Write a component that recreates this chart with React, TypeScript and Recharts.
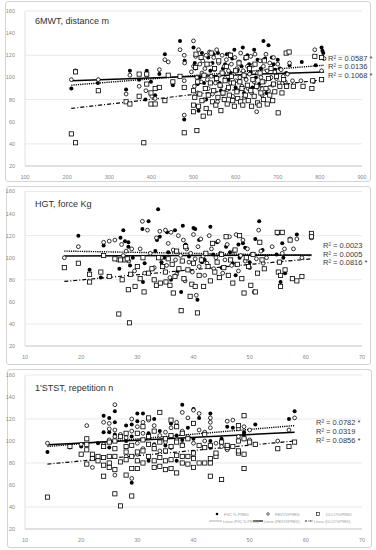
import { ScatterChart, Scatter, XAxis, YAxis, CartesianGrid, ReferenceLine } from "recharts";

type Pt = [number, number];

// 6MWT panel
const fvcWalk: Pt[] = [
  [210, 90], [273, 95], [340, 89], [349, 106], [371, 98], [386, 80], [389, 106], [399, 96], [409, 84], [419, 103],
  [432, 121], [451, 93], [468, 133], [479, 115], [478, 62], [500, 127], [503, 113], [505, 108], [510, 94], [512, 70],
  [515, 100], [520, 122], [525, 95], [530, 80], [535, 118], [540, 106], [545, 113], [548, 121], [552, 100], [558, 122],
  [562, 95], [565, 88], [570, 108], [575, 112], [579, 121], [583, 98], [588, 104], [592, 117], [597, 125], [600, 91],
  [605, 107], [610, 97], [614, 110], [617, 127], [620, 86], [624, 99], [628, 120], [632, 112], [636, 105], [640, 91],
  [644, 125], [648, 100], [652, 116], [656, 94], [660, 108], [666, 133], [670, 117], [673, 86], [678, 129], [682, 99],
  [686, 118], [690, 112], [694, 107], [700, 116], [705, 108], [720, 104], [728, 111], [757, 114], [785, 96], [790, 111],
  [804, 127], [806, 124], [808, 122],
];
const fev1Walk: Pt[] = [
  [210, 98], [220, 106], [274, 98], [340, 85], [349, 102], [371, 92], [387, 88], [389, 102], [401, 83], [409, 81],
  [419, 107], [432, 116], [440, 114], [468, 125], [478, 120], [479, 113], [478, 97], [478, 66], [500, 133], [495, 105],
  [500, 110], [502, 92], [505, 119], [508, 100], [510, 86], [512, 125], [515, 112], [518, 96], [520, 104], [522, 115],
  [525, 80], [527, 108], [530, 120], [533, 98], [535, 90], [538, 123], [540, 112], [542, 101], [545, 85], [548, 118],
  [550, 107], [552, 95], [555, 125], [557, 78], [560, 113], [562, 102], [565, 92], [568, 120], [570, 85], [573, 110],
  [575, 99], [578, 116], [580, 89], [583, 106], [585, 121], [588, 95], [590, 112], [593, 83], [595, 103], [598, 118],
  [600, 97], [603, 108], [605, 88], [608, 114], [610, 100], [612, 122], [615, 92], [618, 106], [620, 82], [623, 117],
  [625, 98], [628, 110], [630, 90], [633, 103], [636, 119], [638, 86], [641, 111], [644, 96], [646, 121], [650, 69],
  [652, 104], [655, 90], [658, 115], [660, 100], [663, 84], [666, 110], [668, 96], [672, 121], [675, 106], [678, 88],
  [681, 113], [684, 100], [688, 93], [690, 118], [693, 105], [697, 99], [700, 112], [703, 95], [708, 107], [713, 101],
  [718, 96], [723, 103], [728, 113], [735, 97], [755, 97], [788, 125], [804, 106], [810, 117],
];
const dlcoWalk: Pt[] = [
  [210, 49], [220, 105], [220, 41], [274, 88], [340, 78], [349, 76], [371, 103], [371, 83], [382, 41], [389, 103],
  [389, 94], [399, 76], [399, 86], [409, 76], [409, 90], [419, 91], [432, 79], [440, 102], [451, 96], [468, 101],
  [478, 91], [478, 50], [500, 88], [500, 75], [500, 69], [503, 82], [505, 109], [506, 121], [508, 52], [510, 96],
  [512, 74], [515, 85], [518, 118], [520, 79], [523, 65], [525, 102], [528, 90], [530, 72], [532, 112], [535, 84],
  [538, 68], [540, 95], [542, 122], [545, 78], [548, 88], [550, 108], [553, 75], [555, 99], [558, 82], [560, 115],
  [563, 93], [565, 70], [568, 104], [570, 86], [573, 80], [575, 97], [578, 110], [580, 76], [583, 91], [585, 84],
  [588, 120], [590, 101], [593, 79], [595, 95], [597, 74], [600, 106], [603, 87], [605, 81], [608, 113], [610, 96],
  [612, 78], [615, 90], [617, 75], [620, 102], [623, 84], [625, 118], [628, 93], [630, 79], [633, 108], [636, 88],
  [638, 74], [641, 98], [644, 83], [646, 112], [650, 92], [652, 77], [656, 75], [658, 104], [660, 86], [663, 96],
  [666, 80], [668, 115], [672, 90], [675, 76], [678, 99], [681, 84], [684, 108], [688, 79], [690, 94], [693, 87],
  [697, 101], [701, 68], [705, 92], [710, 86], [714, 98], [720, 122], [721, 92], [727, 123], [737, 92], [760, 92],
  [783, 97], [781, 90], [788, 119], [804, 118], [804, 98],
];

// HGT panel
const fvcGrip: Pt[] = [
  [19.5, 120], [21.5, 89], [23.5, 82], [24, 111], [26.8, 90], [27, 118], [27.5, 125], [27.8, 115], [28.4, 114], [28.4, 110],
  [28.7, 93], [29.2, 100], [30.9, 126], [31, 78], [31.3, 95], [32, 133], [33.2, 106], [33.5, 116], [33.7, 144], [34, 119],
  [34.3, 96], [34.8, 100], [35.3, 123], [35.5, 105], [36, 80], [36.7, 125], [37.2, 88], [37.8, 69], [38.1, 129], [38.6, 112],
  [39.2, 101], [40, 127], [40.3, 126], [40.7, 62], [41, 116], [41.5, 96], [42, 98], [43, 128], [43.5, 103], [44.2, 114],
  [45, 91], [45.8, 110], [46.5, 105], [47, 95], [47.5, 84], [48, 112], [48.2, 100], [48.8, 113], [49.2, 109], [50, 96],
  [51, 117], [51.7, 133], [52.3, 107], [54.8, 103], [55.5, 78], [55.8, 113], [56, 100], [56.3, 86], [58.4, 121],
];
const fev1Grip: Pt[] = [
  [17, 100], [19.5, 110], [24, 114], [25, 115], [26, 116], [26.5, 98], [27.2, 112], [27.5, 102], [28, 106], [28.5, 97],
  [29, 108], [29.5, 88], [30.5, 108], [30.9, 133], [31.3, 86], [31.8, 125], [32.3, 104], [33, 91], [33.4, 118], [34, 124],
  [34.3, 100], [35, 125], [35.2, 93], [35.5, 113], [35.8, 82], [36, 123], [36.4, 107], [36.8, 98], [37, 85], [37.3, 120],
  [37.7, 102], [38.2, 116], [38.5, 79], [38.8, 108], [39.2, 96], [39.5, 104], [39.8, 87], [40, 121], [40.3, 99], [40.5, 66],
  [40.8, 110], [41, 92], [41.3, 117], [41.7, 101], [42, 84], [42.4, 95], [42.8, 120], [43.2, 108], [43.6, 90], [44, 100],
  [44.4, 115], [44.8, 104], [45.2, 86], [45.6, 98], [46, 112], [46.4, 119], [46.8, 93], [47.2, 106], [47.6, 121], [48, 88],
  [48.4, 102], [48.8, 116], [49.2, 97], [49.6, 108], [50, 91], [50.4, 103], [50.8, 69], [51.2, 99], [51.6, 125], [52, 106],
  [52.4, 95], [53, 100], [54, 110], [55, 122], [55.4, 96], [55.8, 104], [56.2, 108], [57.2, 117], [57.8, 108], [58.4, 117],
  [59.3, 100], [61, 118],
];
const dlcoGrip: Pt[] = [
  [17, 91], [19.5, 95], [21.5, 85], [21.5, 78], [23.5, 87], [24, 102], [25, 83], [26, 99], [26.7, 49], [27, 98],
  [27.3, 80], [27.8, 98], [28.2, 99], [28.4, 71], [28.6, 41], [28.8, 85], [29.6, 74], [30, 92], [30.5, 81], [31, 100],
  [31.2, 69], [32, 86], [32.6, 90], [33, 80], [33.4, 75], [33.8, 100], [34.1, 77], [34.5, 92], [35, 87], [35.1, 78],
  [35.5, 99], [35.8, 75], [36.2, 94], [36.4, 68], [36.7, 83], [37, 106], [37.4, 90], [37.8, 52], [38, 97], [38.3, 81],
  [38.6, 110], [39, 89], [39.4, 65], [39.7, 76], [40, 95], [40.3, 74], [40.7, 50], [41, 84], [41.4, 98], [41.8, 74],
  [42.2, 104], [42.6, 92], [43, 79], [43.4, 113], [43.8, 87], [44.2, 96], [44.6, 82], [45, 103], [45.4, 91], [45.8, 119],
  [46.2, 84], [46.6, 98], [47, 77], [47.4, 107], [47.8, 94], [48.2, 120], [48.6, 81], [49, 68], [49.4, 100], [49.8, 92],
  [50.2, 75], [50.6, 103], [51, 69], [51.4, 86], [51.8, 114], [52.2, 98], [52.6, 90], [54.9, 123], [55.1, 87], [55.3, 96],
  [55.5, 84], [55.5, 74], [55.8, 123], [56.3, 89], [57.2, 116], [57.6, 81], [58.4, 79], [59.3, 83], [61, 122], [61, 119],
];

// 1'STST panel
const fvcStand: Pt[] = [
  [14, 90], [18, 94], [20, 95], [23, 98], [24, 123], [24, 108], [25, 121], [25, 94], [25, 108], [26, 127],
  [26, 117], [26, 106], [28, 114], [28, 100], [29, 62], [29, 115], [29, 104], [30, 125], [30, 118], [31, 125],
  [31, 101], [32, 107], [32, 82], [33, 120], [33, 97], [34, 109], [35, 96], [36, 116], [37, 82], [37, 105],
  [38, 133], [38, 101], [39, 112], [40, 129], [40, 102], [41, 121], [42, 107], [43, 125], [43, 100], [43, 94],
  [45, 102], [46, 113], [47, 112], [49, 108], [49, 106], [51, 115], [57, 120], [58, 127],
];
const fev1Stand: Pt[] = [
  [14, 98], [20, 97], [21, 114], [22, 76], [24, 117], [24, 97], [25, 116], [25, 111], [25, 101], [26, 133],
  [26, 110], [26, 104], [26, 69], [27, 106], [28, 103], [28, 86], [29, 120], [29, 66], [29, 109], [30, 113],
  [30, 98], [30, 88], [31, 117], [31, 107], [31, 93], [32, 119], [32, 103], [33, 114], [33, 96], [34, 105],
  [34, 91], [35, 108], [35, 99], [36, 112], [36, 94], [37, 117], [37, 101], [38, 126], [38, 109], [38, 97],
  [39, 121], [39, 104], [40, 116], [40, 98], [40, 128], [41, 125], [41, 110], [42, 108], [42, 100], [43, 121],
  [43, 112], [43, 117], [44, 98], [45, 95], [46, 118], [46, 92], [47, 119], [48, 111], [48, 104], [49, 113],
  [49, 102], [50, 110], [50, 101], [51, 97], [55, 100], [57, 110], [58, 121],
];
const dlcoStand: Pt[] = [
  [14, 49], [18, 95], [20, 88], [21, 102], [21, 97], [21, 92], [21, 79], [22, 88], [22, 84], [23, 86],
  [23, 82], [24, 85], [24, 78], [24, 68], [24, 95], [25, 86], [25, 80], [25, 76], [25, 99], [26, 52],
  [26, 93], [26, 86], [26, 74], [26, 100], [27, 41], [27, 81], [27, 104], [28, 69], [28, 83], [28, 90],
  [28, 95], [28, 107], [29, 50], [29, 75], [29, 86], [29, 96], [30, 75], [30, 90], [30, 82], [30, 107],
  [31, 80], [31, 91], [31, 101], [31, 113], [32, 86], [32, 97], [32, 104], [32, 121], [33, 76], [33, 82],
  [33, 93], [33, 109], [34, 77], [34, 85], [34, 99], [34, 126], [35, 74], [35, 82], [35, 91], [35, 102],
  [36, 75], [36, 83], [36, 95], [36, 105], [36, 119], [37, 71], [37, 87], [37, 99], [37, 113], [38, 80],
  [38, 86], [38, 96], [38, 107], [39, 79], [39, 86], [39, 102], [40, 76], [40, 84], [40, 89], [40, 116],
  [41, 80], [41, 96], [42, 80], [42, 94], [42, 106], [43, 68], [43, 80], [43, 84], [43, 96], [44, 86],
  [44, 89], [45, 65], [45, 99], [46, 94], [46, 96], [47, 95], [48, 89], [48, 91], [48, 100], [48, 114],
  [49, 75], [49, 88], [49, 102], [49, 123], [50, 99], [51, 97], [55, 93], [57, 95], [58, 99],
];

// trend line end points (FVC dotted, FEV1 solid, DLCO dash-dot)
const trendWalk: Pt[][] = [[[210, 93], [810, 111]], [[210, 97], [810, 105]], [[210, 72], [810, 98]]];
const trendGrip: Pt[][] = [[[17, 106], [61, 102]], [[17, 101.5], [61, 102.5]], [[17, 78.5], [61, 99]]];
const trendStand: Pt[][] = [[[14, 95], [58, 114]], [[14, 96.5], [58, 108]], [[14, 79], [58, 100]]];

const r2Walk = ["R² = 0.0587 *", "R² = 0.0136", "R² = 0.1068 *"];
const r2Grip = ["R² = 0.0023", "R² = 0.0005", "R² = 0.0816 *"];
const r2Stand = ["R² = 0.0782 *", "R² = 0.0319", "R² = 0.0856 *"];

const yTicks = [20, 40, 60, 80, 100, 120, 140, 160];
const walkTicks = [100, 200, 300, 400, 500, 600, 700, 800, 900];
const ageTicks = [10, 20, 30, 40, 50, 60, 70];

const legendNames = ["FVC % PRED", "FEV1%PRED", "DLCO%PRED"];

const FONT = "'Liberation Sans', Arial, sans-serif";
const toPts = (a: Pt[]) => a.map(([x, y]) => ({ x, y }));

const FilledDot = (p: any) => <circle cx={p.cx} cy={p.cy} r={2} fill="#000" />;
const OpenDot = (p: any) => <circle cx={p.cx} cy={p.cy} r={1.9} fill="#fff" stroke="#000" strokeWidth={0.8} />;
const Box = (p: any) => (
  <rect x={p.cx - 2.1} y={p.cy - 2.1} width={4.2} height={4.2} fill="#fff" stroke="#000" strokeWidth={0.8} />
);

const trendStyles = [
  { stroke: "#000", strokeWidth: 1.4, strokeDasharray: "1.2 1" },
  { stroke: "#000", strokeWidth: 1.5 },
  { stroke: "#000", strokeWidth: 1.2, strokeDasharray: "4 2 1 2" },
];

function Panel(props: {
  top: number;
  height: number;
  marginTop: number;
  xDomain: [number, number];
  xTicks: number[];
  series: Pt[][];
  trends: Pt[][];
  title: string;
  titleY: number;
  r2: string[];
  r2X: number;
  r2Y: number[];
  box: { left: number; top: number; width: number; height: number };
  legend?: boolean;
}) {
  const { top, height, marginTop } = props;
  return (
    <>
      <div
        style={{
          position: "absolute",
          ...props.box,
          border: "1px solid #d4d4d4",
          borderRadius: 3,
          boxSizing: "border-box",
        }}
      />
      <div style={{ position: "absolute", left: 0, top }}>
        <ScatterChart width={376} height={height} margin={{ top: marginTop, right: 14, bottom: 4, left: 5 }}>
          <CartesianGrid vertical={false} stroke="#e3e3e3" strokeWidth={0.8} />
          <XAxis
            type="number"
            dataKey="x"
            domain={props.xDomain}
            ticks={props.xTicks}
            height={12}
            tickLine={false}
            axisLine={{ stroke: "#cfcfcf" }}
            tick={{ fontSize: 5.5, fill: "#8a8a8a", fontFamily: FONT }}
            tickMargin={3}
            allowDataOverflow
          />
          <YAxis
            type="number"
            dataKey="y"
            domain={[20, 160]}
            ticks={yTicks}
            width={20}
            tickLine={false}
            axisLine={{ stroke: "#e0e0e0" }}
            tick={{ fontSize: 5.5, fill: "#8a8a8a", fontFamily: FONT }}
            tickMargin={4}
            allowDataOverflow
          />
          <Scatter data={toPts(props.series[0])} shape={FilledDot} isAnimationActive={false} />
          <Scatter data={toPts(props.series[1])} shape={OpenDot} isAnimationActive={false} />
          <Scatter data={toPts(props.series[2])} shape={Box} isAnimationActive={false} />
          {props.trends.map((t, i) => (
            <ReferenceLine
              key={i}
              segment={[
                { x: t[0][0], y: t[0][1] },
                { x: t[1][0], y: t[1][1] },
              ]}
              {...trendStyles[i]}
            />
          ))}
        </ScatterChart>
      </div>
      <div
        style={{
          position: "absolute",
          left: 35,
          top: props.titleY - 6,
          fontFamily: FONT,
          fontSize: 9,
          lineHeight: "12px",
          color: "#303030",
          whiteSpace: "nowrap",
        }}
      >
        {props.title}
      </div>
      {props.r2.map((s, i) => (
        <div
          key={i}
          style={{
            position: "absolute",
            left: props.r2X,
            top: props.r2Y[i] - 4.5,
            fontFamily: FONT,
            fontSize: 7.5,
            lineHeight: "9px",
            color: "#3a3a3a",
            whiteSpace: "nowrap",
          }}
        >
          {s}
        </div>
      ))}
      {props.legend && (
        <svg style={{ position: "absolute", left: 200, top: 508 }} width={166} height={18}>
          <circle cx={17} cy={6} r={1.3} fill="#000" />
          <circle cx={68} cy={6} r={1.3} fill="#fff" stroke="#000" strokeWidth={0.6} />
          <rect x={116.5} y={4.5} width={3} height={3} fill="#fff" stroke="#000" strokeWidth={0.6} />
          {legendNames.map((n, i) => (
            <text key={n} x={24 + i * 51} y={7.5} fontSize={4} fill="#9a9a9a" fontFamily={FONT}>
              {n}
            </text>
          ))}
          <line x1={9} x2={22} y1={13} y2={13} stroke="#9a9a9a" strokeWidth={0.8} />
          <line x1={53} x2={63} y1={13} y2={13} stroke="#000" strokeWidth={1.2} />
          <line x1={105} x2={113} y1={13} y2={13} stroke="#000" strokeWidth={0.9} strokeDasharray="2 1 0.6 1" />
          {legendNames.map((n, i) => (
            <text key={n} x={[23, 64, 114][i]} y={14.5} fontSize={3.6} fill="#9a9a9a" fontFamily={FONT}>
              {`Linear (${n})`}
            </text>
          ))}
        </svg>
      )}
    </>
  );
}

export default function App() {
  return (
    <div style={{ position: "absolute", left: 0, top: 0, width: 376, height: 550, background: "#fff" }}>
      <Panel
        top={0}
        height={182}
        marginTop={11}
        xDomain={[100, 900]}
        xTicks={walkTicks}
        series={[fvcWalk, fev1Walk, dlcoWalk]}
        trends={trendWalk}
        title="6MWT, distance m"
        titleY={21}
        r2={r2Walk}
        r2X={328}
        r2Y={[58.3, 66.7, 75]}
        box={{ left: 5, top: 1, width: 366, height: 181 }}
      />
      <Panel
        top={180}
        height={182}
        marginTop={11.5}
        xDomain={[10, 70]}
        xTicks={ageTicks}
        series={[fvcGrip, fev1Grip, dlcoGrip]}
        trends={trendGrip}
        title="HGT, force Kg"
        titleY={204}
        r2={r2Grip}
        r2X={323}
        r2Y={[245, 254, 262.3]}
        box={{ left: 6, top: 186, width: 365, height: 179 }}
      />
      <Panel
        top={363.5}
        height={181}
        marginTop={11}
        xDomain={[10, 70]}
        xTicks={ageTicks}
        series={[fvcStand, fev1Stand, dlcoStand]}
        trends={trendStand}
        title="1'STST, repetition n"
        titleY={388}
        r2={r2Stand}
        r2X={316}
        r2Y={[422.3, 431, 440]}
        box={{ left: 7, top: 369, width: 365, height: 179 }}
        legend
      />
    </div>
  );
}
